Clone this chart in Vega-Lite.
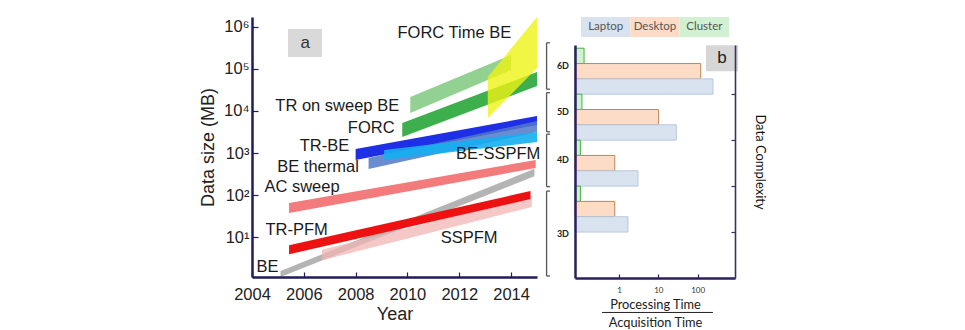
{
  "$schema": "https://vega.github.io/schema/vega-lite/v6.json",
  "background": "white",
  "padding": {"left": 199, "top": 17, "right": 10, "bottom": 0},
  "bounds": "flush",
  "spacing": 38,
  "config": {
    "view": {"stroke": null},
    "font": "Liberation Sans",
    "axis": {"grid": false}
  },
  "hconcat": [
    {
      "width": 285,
      "height": 260,
      "layer": [
        {
          "data": {
            "values": [
              {"band": "BE", "year": 2005.1, "lo": 1.12, "hi": 1.55},
              {"band": "BE", "year": 2014.9, "lo": 280, "hi": 420},
              {"band": "SSPFM", "year": 2006.7, "lo": 2.8, "hi": 5.0},
              {"band": "SSPFM", "year": 2014.8, "lo": 52, "hi": 92},
              {"band": "TR-PFM", "year": 2005.43, "lo": 3.9, "hi": 6.4},
              {"band": "TR-PFM", "year": 2014.75, "lo": 80, "hi": 124},
              {"band": "AC sweep", "year": 2005.43, "lo": 37.3, "hi": 64.6},
              {"band": "AC sweep", "year": 2014.95, "lo": 440, "hi": 681},
              {"band": "TR-BE", "year": 2008.0, "lo": 681, "hi": 1245},
              {"band": "TR-BE", "year": 2015.0, "lo": 4640, "hi": 7600},
              {"band": "BE thermal", "year": 2008.5, "lo": 416, "hi": 760},
              {"band": "BE thermal", "year": 2015.0, "lo": 3160, "hi": 5750},
              {"band": "BE-SSPFM", "year": 2009.1, "lo": 681, "hi": 1180},
              {"band": "BE-SSPFM", "year": 2015.0, "lo": 1830, "hi": 3160},
              {"band": "TR on sweep BE", "year": 2010.11, "lo": 8960, "hi": 21500},
              {"band": "TR on sweep BE", "year": 2014.0, "lo": 94700, "hi": 215000},
              {"band": "FORC", "year": 2009.8, "lo": 2400, "hi": 5180},
              {"band": "FORC", "year": 2015.0, "lo": 39400, "hi": 85000},
              {"band": "FORC Time BE", "year": 2013.1, "lo": 6800, "hi": 64600},
              {"band": "FORC Time BE", "year": 2015.0, "lo": 106000, "hi": 1730000}
            ]
          },
          "mark": {"type": "area", "clip": true, "opacity": 1},
          "encoding": {
            "x": {
              "field": "year",
              "type": "quantitative",
              "scale": {"domain": [2004, 2015], "nice": false, "zero": false},
              "axis": {
                "values": [2004, 2006, 2008, 2010, 2012, 2014],
                "format": "d",
                "labelFontSize": 16.5,
                "labelColor": "#222",
                "labelFlush": false,
                "labelOverlap": false,
                "labelPadding": 14,
                "tickSize": -5,
                "tickColor": "#1f1b5e",
                "tickWidth": 1.2,
                "domainColor": "#1f1b5e",
                "domainWidth": 2.5,
                "title": "Year",
                "titleFontSize": 18,
                "titleFontWeight": "normal",
                "titleColor": "#222",
                "titlePadding": 3,
                "zindex": 1
              }
            },
            "y": {
              "field": "hi",
              "type": "quantitative",
              "scale": {"type": "log", "domain": [1.116, 1730000], "nice": false},
              "axis": {
                "values": [10, 100, 1000, 10000, 100000, 1000000],
                "labelExpr": "'10' + (datum.value >= 999999 ? '⁶' : datum.value >= 99999 ? '⁵' : datum.value >= 9999 ? '⁴' : datum.value >= 999 ? '³' : datum.value >= 99 ? '²' : '¹')",
                "labelFontSize": 16.5,
                "labelColor": "#222",
                "labelPadding": 9,
                "tickSize": -6,
                "tickColor": "#1f1b5e",
                "tickWidth": 1.2,
                "domainColor": "#1f1b5e",
                "domainWidth": 2.5,
                "title": "Data size (MB)",
                "titleFontSize": 18,
                "titleFontWeight": "normal",
                "titleColor": "#222",
                "titlePadding": 6,
                "zindex": 1
              }
            },
            "y2": {"field": "lo"},
            "color": {
              "field": "band",
              "type": "nominal",
              "scale": {
                "domain": ["BE", "SSPFM", "TR-PFM", "AC sweep", "TR-BE", "BE thermal", "BE-SSPFM", "TR on sweep BE", "FORC", "FORC Time BE"],
                "range": ["#b4b4b4", "rgba(242,180,180,0.75)", "#ee1111", "#f37b7b", "#1f2fe6", "rgba(80,120,200,0.85)", "rgba(20,175,240,0.9)", "#92d192", "#3daf4c", "rgba(238,242,20,0.8)"]
              },
              "legend": null
            }
          }
        },
        {
          "data": {
            "values": [
              {"label": "FORC Time BE", "year": 2011.81, "size": 720000},
              {"label": "TR on sweep BE", "year": 2007.29, "size": 13100},
              {"label": "FORC", "year": 2008.6, "size": 3940},
              {"label": "TR-BE", "year": 2006.8, "size": 1470},
              {"label": "BE thermal", "year": 2006.55, "size": 464},
              {"label": "AC sweep", "year": 2005.93, "size": 155},
              {"label": "TR-PFM", "year": 2005.72, "size": 14.7},
              {"label": "SSPFM", "year": 2012.38, "size": 9.5},
              {"label": "BE", "year": 2004.6, "size": 1.93},
              {"label": "BE-SSPFM", "year": 2013.5, "size": 946}
            ]
          },
          "mark": {"type": "text", "fontSize": 16.5, "color": "#1a1a1a", "align": "center", "baseline": "middle"},
          "encoding": {
            "x": {"field": "year", "type": "quantitative"},
            "y": {"field": "size", "type": "quantitative", "scale": {"type": "log"}},
            "text": {"field": "label"}
          }
        },
        {
          "data": {"name": "complexity"},
          "layer": [
            {
              "mark": {"type": "rule", "color": "#555", "strokeWidth": 1.3},
              "encoding": {
                "x": {"datum": 2015.37},
                "y": {"field": "lo", "type": "quantitative", "scale": {"type": "log"}},
                "y2": {"field": "hi"}
              }
            },
            {
              "mark": {"type": "rule", "color": "#555", "strokeWidth": 1.3},
              "encoding": {
                "x": {"datum": 2015.37},
                "x2": {"datum": 2015.5},
                "y": {"field": "lo", "type": "quantitative", "scale": {"type": "log"}}
              }
            },
            {
              "mark": {"type": "rule", "color": "#555", "strokeWidth": 1.3},
              "encoding": {
                "x": {"datum": 2015.37},
                "x2": {"datum": 2015.5},
                "y": {"field": "hi", "type": "quantitative", "scale": {"type": "log"}}
              }
            },
            {
              "mark": {"type": "text", "font": "Lato", "fontSize": 9, "fontWeight": "bold", "color": "#222", "align": "center", "baseline": "middle"},
              "encoding": {
                "x": {"datum": 2016.0},
                "y": {"field": "mid", "type": "quantitative", "scale": {"type": "log"}},
                "text": {"field": "cls"}
              }
            }
          ]
        },
        {
          "data": {"values": [{"panel": "a"}]},
          "layer": [
            {
              "mark": {"type": "rect", "fill": "#d9d9d9"},
              "encoding": {
                "x": {"datum": 2005.39},
                "x2": {"datum": 2006.7},
                "y": {"datum": 890000, "scale": {"type": "log"}},
                "y2": {"datum": 193000}
              }
            },
            {
              "mark": {"type": "text", "fontSize": 17, "color": "#333", "align": "center", "baseline": "middle"},
              "encoding": {
                "x": {"datum": 2006.05},
                "y": {"datum": 415000, "scale": {"type": "log"}},
                "text": {"field": "panel"}
              }
            }
          ]
        }
      ]
    },
    {
      "vconcat": [
        {
          "width": 148,
          "height": 20,
          "data": {"values": [{"device": "Laptop"}, {"device": "Desktop"}, {"device": "Cluster"}]},
          "encoding": {
            "x": {
              "field": "device",
              "type": "nominal",
              "sort": ["Laptop", "Desktop", "Cluster"],
              "scale": {"paddingInner": 0, "paddingOuter": 0},
              "axis": null
            }
          },
          "layer": [
            {
              "mark": {"type": "rect"},
              "encoding": {
                "fill": {
                  "field": "device",
                  "type": "nominal",
                  "scale": {"domain": ["Laptop", "Desktop", "Cluster"], "range": ["#d9e3ef", "#fcdcc6", "#d2f1d2"]},
                  "legend": null
                }
              }
            },
            {
              "mark": {"type": "text", "font": "Lato", "fontSize": 11.5, "color": "#555", "baseline": "middle"},
              "encoding": {"text": {"field": "device"}}
            }
          ]
        },
        {
          "width": 160,
          "height": 233,
          "layer": [
            {
              "data": {
                "values": [
                  {"complexity": "6D", "device": "Cluster", "ratio": 0.129},
                  {"complexity": "6D", "device": "Desktop", "ratio": 120},
                  {"complexity": "6D", "device": "Laptop", "ratio": 246},
                  {"complexity": "5D", "device": "Cluster", "ratio": 0.114},
                  {"complexity": "5D", "device": "Desktop", "ratio": 10.2},
                  {"complexity": "5D", "device": "Laptop", "ratio": 28.7},
                  {"complexity": "4D", "device": "Cluster", "ratio": 0.104},
                  {"complexity": "4D", "device": "Desktop", "ratio": 0.78},
                  {"complexity": "4D", "device": "Laptop", "ratio": 3.04},
                  {"complexity": "3D", "device": "Cluster", "ratio": 0.104},
                  {"complexity": "3D", "device": "Desktop", "ratio": 0.78},
                  {"complexity": "3D", "device": "Laptop", "ratio": 1.69}
                ]
              },
              "mark": {"type": "bar", "strokeWidth": 1, "orient": "horizontal"},
              "encoding": {
                "y": {
                  "field": "complexity",
                  "type": "nominal",
                  "scale": {"domain": ["6D", "5D", "4D", "3D", ""], "paddingInner": 0, "paddingOuter": 0.035, "align": 1},
                  "axis": {
                    "orient": "left",
                    "labels": false,
                    "ticks": false,
                    "title": null,
                    "domainColor": "#2b1f5c",
                    "domainWidth": 2.5,
                    "zindex": 1
                  }
                },
                "yOffset": {
                  "field": "device",
                  "type": "nominal",
                  "scale": {"domain": ["Cluster", "Desktop", "Laptop"], "paddingInner": 0, "paddingOuter": 0}
                },
                "x": {
                  "field": "ratio",
                  "type": "quantitative",
                  "scale": {"type": "log", "domain": [0.0759, 895], "nice": false},
                  "axis": {
                    "values": [1, 10, 100],
                    "format": "d",
                    "labelFont": "Lato",
                    "labelFontSize": 8,
                    "labelColor": "#333",
                    "labelFlush": false,
                    "labelPadding": 12,
                    "tickSize": -4,
                    "tickColor": "#2b1f5c",
                    "tickWidth": 1.2,
                    "domainColor": "#2b1f5c",
                    "domainWidth": 2.5,
                    "title": ["Processing Time", "Acquisition Time"],
                    "titleFont": "Lato",
                    "titleFontSize": 12.8,
                    "titleFontWeight": "normal",
                    "titleColor": "#222",
                    "titleLineHeight": 18,
                    "titlePadding": 4,
                    "zindex": 1
                  }
                },
                "x2": {"datum": 0.0759},
                "fill": {
                  "field": "device",
                  "type": "nominal",
                  "scale": {"domain": ["Laptop", "Desktop", "Cluster"], "range": ["#d9e3ef", "#fcdcc6", "#d2f1d2"]},
                  "legend": null
                },
                "stroke": {
                  "field": "device",
                  "type": "nominal",
                  "scale": {"domain": ["Laptop", "Desktop", "Cluster"], "range": ["#b6c8de", "#c48552", "#3cb43c"]},
                  "legend": null
                }
              }
            },
            {
              "data": {"values": [{"panel": "b"}]},
              "mark": {"type": "rect", "fill": "#d6d6d6"},
              "encoding": {
                "x": {"datum": 163},
                "x2": {"datum": 1070},
                "y": {
                  "datum": "6D",
                  "type": "nominal",
                  "bandPosition": -0.065,
                  "axis": {
                    "orient": "right",
                    "labels": false,
                    "ticks": true,
                    "bandPosition": 1,
                    "tickSize": -4,
                    "tickColor": "#3b2f6a",
                    "tickWidth": 1.2,
                    "domainColor": "#3b2f6a",
                    "domainWidth": 1.6,
                    "title": "Data Complexity",
                    "titleFont": "Lato",
                    "titleFontSize": 13,
                    "titleFontWeight": "normal",
                    "titleColor": "#111",
                    "titlePadding": 17
                  }
                },
                "y2": {"datum": "6D", "bandPosition": 0.5}
              }
            },
            {
              "data": {"values": [{"panel": "b"}]},
              "mark": {"type": "text", "fontSize": 17, "color": "#222", "align": "center", "baseline": "middle"},
              "encoding": {
                "x": {"datum": 417},
                "y": {"datum": "6D", "type": "nominal", "bandPosition": 0.22, "axis": null},
                "text": {"field": "panel"}
              }
            },
            {
              "data": {"values": [{"panel": "b"}]},
              "mark": {"type": "rule", "color": "#222", "strokeWidth": 1},
              "encoding": {
                "x": {"datum": 0.37},
                "x2": {"datum": 246},
                "y": {"datum": "3D", "type": "nominal", "bandPosition": 2.75, "axis": null}
              }
            }
          ],
          "resolve": {"axis": {"y": "independent"}}
        }
      ],
      "spacing": 8,
      "bounds": "flush",
      "center": true
    }
  ],
  "datasets": {
    "complexity": [
      {"cls": "3D", "lo": 1.18, "hi": 124, "mid": 12.1},
      {"cls": "4D", "lo": 158, "hi": 2800, "mid": 665},
      {"cls": "5D", "lo": 3200, "hi": 27300, "mid": 9350},
      {"cls": "6D", "lo": 33000, "hi": 420000, "mid": 117700}
    ]
  }
}
